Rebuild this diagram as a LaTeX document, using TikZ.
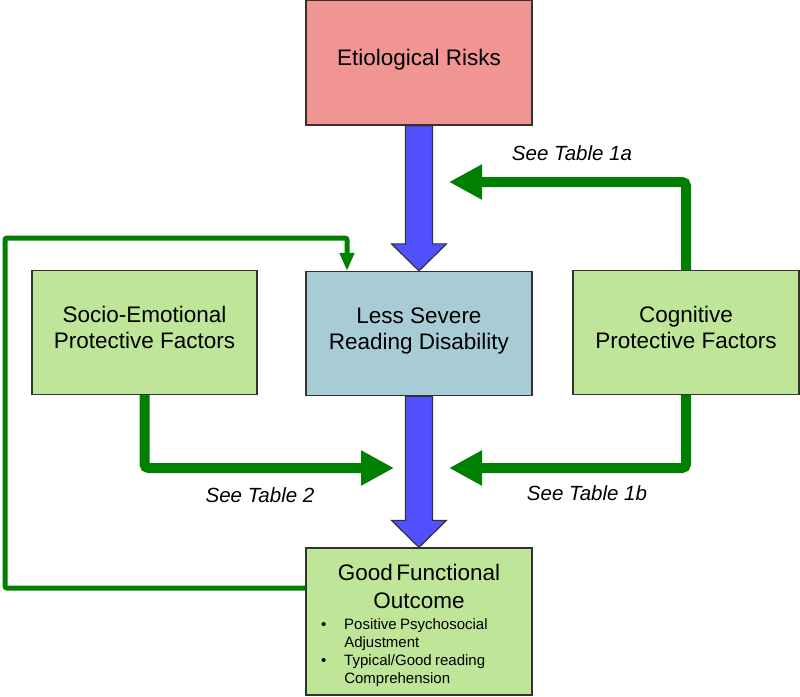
\documentclass[tikz,border=0pt]{standalone}
\usepackage{fontspec}
\setmainfont{Liberation Sans}
\usepackage{tikz}
\usetikzlibrary{arrows.meta,calc}
\usepackage{xcolor}
\definecolor{risk-pink}{RGB}{240,148,148}
\definecolor{rd-blue}{RGB}{168,204,214}
\definecolor{factor-green}{RGB}{190,229,152}
\definecolor{link-green}{RGB}{0,128,0}
\definecolor{flow-blue}{RGB}{80,80,255}
\definecolor{edge-gray}{RGB}{50,50,50}

\newcommand{\blockarrow}[2]{%
  \draw[flow] ($(#1.south)+(-13.5,0)$) -- ($(#2.north)+(-13.5,-27)$)
    -- ($(#2.north)+(-27.5,-27)$) -- (#2.north)
    -- ($(#2.north)+(27.5,-27)$) -- ($(#2.north)+(13.5,-27)$)
    -- ($(#1.south)+(13.5,0)$) -- cycle;}

\begin{document}
\begin{tikzpicture}[x=1pt, y=-1pt,
    box/.style = {rectangle, draw=edge-gray, line width=1.3pt,
                  minimum width=226pt, minimum height=124pt, text depth=10pt,
                  align=center, font=\fontsize{22.5}{26}\selectfont},
    flow/.style = {draw=edge-gray, line width=1.2pt, fill=flow-blue,
                   line join=miter},
    thick link/.style = {draw=link-green, line width=10pt, rounded corners=4pt,
                        -{Triangle[width=33pt,length=33pt]}},
    thin link/.style = {draw=link-green, line width=5pt, rounded corners=2pt,
                       -{Triangle[width=14pt,length=18pt]}},
    label/.style = {font=\fontsize{20.5}{24}\selectfont\itshape}
  ]
    \useasboundingbox (0,0) rectangle (800,696);

    %% ---- boxes ----
    \node[box, fill=risk-pink, minimum height=125pt] (risk) at (419,62.5)
      {Etiological Risks};
    \node[box, fill=rd-blue] (rd) at (419,333.5)
      {Less Severe\\Reading Disability};
    \node[box, fill=factor-green, minimum width=225pt] (socio) at (144.5,332.5)
      {Socio-Emotional\\Protective Factors};
    \node[box, fill=factor-green] (cog) at (686,332.5)
      {Cognitive\\Protective Factors};
    \node[rectangle, draw=edge-gray, line width=1.3pt, fill=factor-green,
          minimum height=147pt, text width=226pt, text height=27pt,
          inner xsep=0pt] (good) at (419,621.5)
      {{\centering\fontsize{22.5}{28}\selectfont Good Functional\\Outcome\par}
       \vspace{7pt}
       \fontsize{15}{18}\selectfont\noindent
       \begin{tabular}[t]{@{\hspace{15pt}}l@{\hspace{18pt}}l}
         •&Positive Psychosocial\\
          &Adjustment\\
         •&Typical/Good reading\\
          &Comprehension
       \end{tabular}};

    %% ---- main flow ----
    \blockarrow{risk}{rd}
    \blockarrow{rd}{good}

    %% ---- protective factor links ----
    \coordinate (tip1a) at (449,182);
    \coordinate (tip1b) at (449,468);
    \coordinate (tip2)  at (394,468);
    \draw[thick link] (cog.north) |- (tip1a);
    \draw[thick link] (cog.south) |- (tip1b);
    \draw[thick link] (socio.south) |- (tip2);

    \node[label] (t1a) at (572,153) {See Table 1a};
    \node[label] (t1b) at (587,493) {See Table 1b};
    \node[label] (t2)  at (260,495) {See Table 2};

    %% ---- feedback loop: far-left exterior back to the top of rd ----
    \coordinate (loopL) at (5,238);
    \draw[thin link] ([yshift=33.5pt]good.west) -| (loopL)
      -| ([xshift=-72pt]rd.north);

  \end{tikzpicture}
\end{document}
